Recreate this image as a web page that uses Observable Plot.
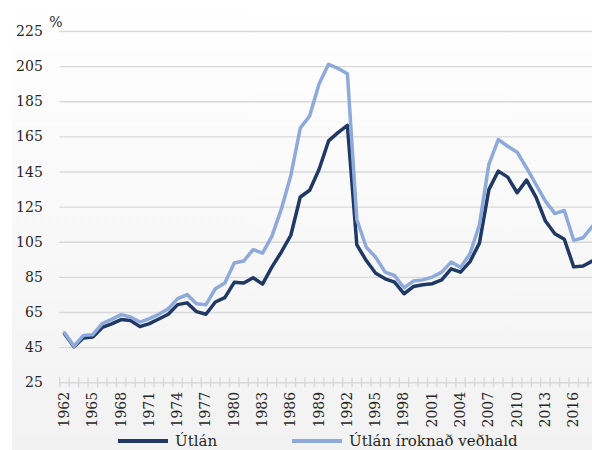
<!DOCTYPE html>
<html>
<head>
<meta charset="utf-8">
<script src="https://cdn.jsdelivr.net/npm/d3@7"></script>
<script src="https://cdn.jsdelivr.net/npm/@observablehq/plot@0.6"></script>
<style>
  html, body { margin: 0; padding: 0; background: #ffffff; }
  #wrap { position: relative; width: 592px; height: 450px; overflow: hidden; background: #ffffff; }
  #bg { position: absolute; left: 12px; top: 0; right: 0; bottom: 0; background: linear-gradient(to bottom, #ffffff 0%, #f2f2f2 100%); }
  #chart { position: absolute; left: 0; top: 0; }
  #legend { position: absolute; left: 0; top: 433px; width: 592px; height: 16px; font-family: "DejaVu Serif", serif; font-size: 15px; color: #262626; }
  .item { position: absolute; top: 0; height: 16px; line-height: 16px; white-space: nowrap; }
  .sw { display: inline-block; width: 50px; height: 4px; vertical-align: middle; margin-right: 7px; position: relative; top: -1px; }
</style>
</head>
<body>
<div id="wrap">
  <div id="bg"></div>
  <div id="chart"></div>
  <div id="legend"></div>
</div>
<script>
const years = d3.range(1962, 2019);
const utlan = [53, 45.5, 50.5, 51, 56.5, 58.5, 61, 60.5, 57, 58.7,
  61.3, 64, 69.5, 70.5, 65.5, 64, 71, 73.5, 82.2, 81.8,
  84.8, 81.2, 91, 99.5, 109, 130.8, 134.6, 146.6, 162.7, 167.4,
  171.5, 103.5, 94.6, 87.4, 84.2, 82.3, 75.7, 79.8, 80.8, 81.4,
  83.6, 89.9, 88, 94, 104.5, 135, 145.5, 142.1, 133.2, 140.4,
  130.7, 117.1, 109.9, 106.7, 91, 91.5, 94.4];
const vedhald = [53.5, 45.8, 52, 52.4, 58.7, 61.1, 63.8, 62.5, 59.6, 61.5,
  64, 67.2, 72.9, 75.2, 70, 69.5, 78.6, 81.8, 93.2, 94.3,
  100.8, 98.8, 108.5, 124, 143, 170, 177, 195.3, 206.3, 204,
  201, 118, 102.2, 96.5, 88, 86.1, 79.1, 82.9, 83.6, 85.2,
  88, 93.7, 90.8, 98.4, 115, 149.3, 163.5, 159.7, 156.3, 147.4,
  137.9, 128.4, 121.3, 123.1, 106.1, 107.6, 114.2];
const seriesNames = ["Útlán", "Útlán íroknað veðhald"];
const seriesColors = ["#203864", "#8eaadb"];
const yTicks = d3.range(25, 226, 20);
const xTickLabels = d3.range(1962, 2017, 3);
const yearBounds = d3.range(1961.5, 2019, 1);

const table = years.map((yr, i) => ({year: yr, a: utlan[i], b: vedhald[i]}));

const W = 592, H = 432;
const x0 = 59.3, x1 = 596.8, yTop = 31, yBot = 382.3;

const chart = Plot.plot({
  width: W,
  height: H,
  marginLeft: x0,
  marginRight: W - x1,
  marginTop: yTop,
  marginBottom: H - yBot,
  style: {fontFamily: "DejaVu Serif", fontSize: "14px", color: "#262626", background: "transparent", overflow: "hidden"},
  x: {type: "linear", domain: [1961.5, 2018.5], range: [x0, x1], axis: null},
  y: {domain: [25, 225], range: [yBot, yTop], axis: null},
  marks: [
    Plot.ruleY(yTicks, {y: d => d, stroke: "#d9d9d9", strokeWidth: 1.4}),
    Plot.ruleX(yearBounds, {x: d => d, y1: () => 25, y2: () => 25, insetTop: 5, insetBottom: 5, stroke: "#d9d9d9", strokeWidth: 1.4}),
    Plot.text(yTicks, {y: d => d, text: d => String(d), frameAnchor: "left", dx: -17, textAnchor: "end", fill: "#262626"}),
    Plot.text(xTickLabels, {x: d => d, text: d => String(d), frameAnchor: "bottom", dy: 9, rotate: -90, textAnchor: "end", lineAnchor: "middle", fill: "#262626"}),
    Plot.text(["%"], {text: d => d, frameAnchor: "top-left", dx: -4, dy: -14, textAnchor: "middle", fill: "#262626"}),
    Plot.line(table, {x: "year", y: "a", stroke: seriesColors[0], strokeWidth: 3.5}),
    Plot.line(table, {x: "year", y: "b", stroke: seriesColors[1], strokeWidth: 3.5})
  ]
});
document.getElementById("chart").appendChild(chart);

const legend = document.getElementById("legend");
const lefts = [118, 292];
seriesNames.forEach((name, i) => {
  const item = document.createElement("div");
  item.className = "item";
  item.style.left = lefts[i] + "px";
  const sw = document.createElement("span");
  sw.className = "sw";
  sw.style.background = seriesColors[i];
  item.appendChild(sw);
  item.appendChild(document.createTextNode(name));
  legend.appendChild(item);
});
</script>
</body>
</html>
